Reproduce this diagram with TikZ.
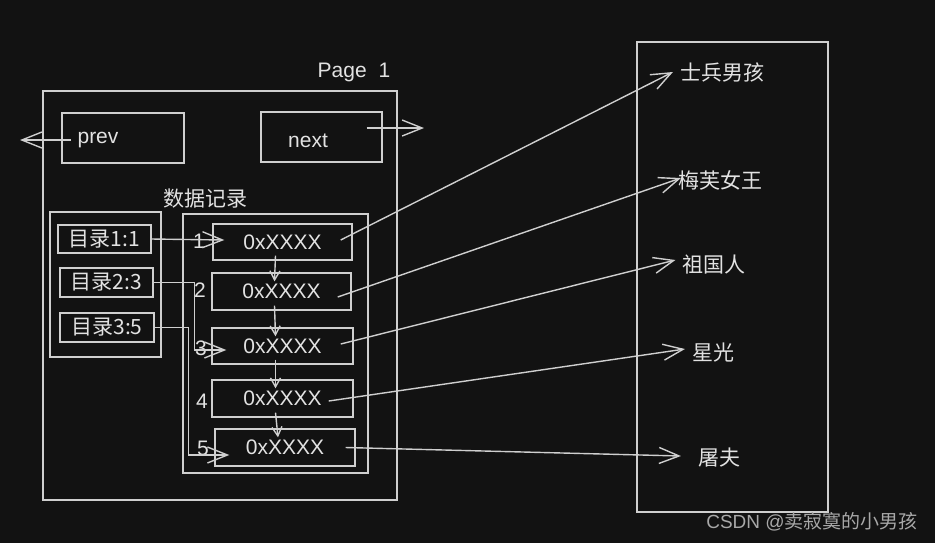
\documentclass[tikz,border=0pt]{standalone}
\usepackage{fontspec}
\setmainfont{Liberation Sans}
\newfontfamily\cjk{Noto Sans CJK SC}
\usetikzlibrary{arrows.meta,calc,positioning}
\definecolor{bgc}{HTML}{121212}
\definecolor{ink}{HTML}{CFCFCF}
\definecolor{txt}{HTML}{E2E2E2}
\definecolor{wmark}{HTML}{A8A8A8}

\begin{document}
\begin{tikzpicture}[x=0.5pt,y=-0.5pt,>={Straight Barb[length=10pt,width=8pt]},
  every node/.style={text=txt,font=\fontsize{10.5}{12.6}\selectfont},
  box/.style={draw=ink,line width=0.7pt,inner sep=0pt},
  link/.style={draw=ink,line width=0.7pt,->},
  down/.style={draw=ink,line width=0.7pt,-{Straight Barb[length=4.5pt,width=5pt]}},
  zh/.style={font=\cjk\fontsize{10.5}{12.6}\selectfont}]
\fill[bgc] (0,0) rectangle (935,543);
\useasboundingbox (0,0) rectangle (935,543);

% page with prev / next pointers
\node[box,minimum width=177pt,minimum height=204.5pt] (page) at (220,295.5) {};
\node (pagetitle) at (354,72) {Page\hspace{6pt}1};
\node[box,minimum width=61pt,minimum height=25pt] (prevbox) at (123,138) {};
\node (prevtxt) at (98,140) {prev};
\node[box,minimum width=60.5pt,minimum height=25pt] (nextbox) at (321.5,137) {};
\node (nexttxt) at (308,141) {next};
\coordinate (prevend) at (20,140);
\coordinate (nextend) at (424,128);
\draw[link] (prevtxt.west) -- (prevend);
\draw[link] ($(nextbox.east)+(-16,-9)$) -- (nextend);

% directory
\node[box,minimum width=55.5pt,minimum height=72.5pt] (dir) at (105.5,284.5) {};
\node[box,zh,minimum width=46.5pt,minimum height=14pt] (d1) at (104.5,239) {目录1:1};
\node[box,zh,minimum width=46.5pt,minimum height=14.5pt] (d2) at (106.5,282.5) {目录2:3};
\node[box,zh,minimum width=47pt,minimum height=14.5pt] (d3) at (107,327.5) {目录3:5};

% records
\node[zh] (rectitle) at (205,199) {数据记录};
\node[box,minimum width=92.5pt,minimum height=129.5pt] (recs) at (275.5,343.5) {};
\node[box,minimum width=69.5pt,minimum height=18pt] (r1) at (282.5,242) {0xXXXX};
\node[box,minimum width=69.5pt,minimum height=18.5pt] (r2) at (281.5,291.5) {0xXXXX};
\node[box,minimum width=70.5pt,minimum height=18pt] (r3) at (282.5,346) {0xXXXX};
\node[box,minimum width=70.5pt,minimum height=18.5pt] (r4) at (282.5,398.5) {0xXXXX};
\node[box,minimum width=70pt,minimum height=18.5pt] (r5) at (285,447.5) {0xXXXX};
\node (idx1) at (199,241) {1};
\node (idx2) at (200,290) {2};
\node (idx3) at (201,348) {3};
\node (idx4) at (202,401) {4};
\node (idx5) at (203,448) {5};
\foreach \a/\b in {r1/r2,r2/r3,r3/r4,r4/r5}
  \draw[down] ($(\a.south)+(-7,-5)$) -- ($(\b.north)+(-7,9)$);

% directory slots -> records
\draw[link] (d1.east) -- ($(r1.west)+(12,-2)$);
\draw[link] (d2.east) -- ++(41,0) |- ($(r3.west)+(15,4)$);
\draw[link] (d3.east) -- ++(34,0) |- ($(r5.west)+(15,7.5)$);

% user records
\node[box,minimum width=95.5pt,minimum height=235pt] (users) at (732.5,277) {};
\node[zh] (boy) at (722,72) {士兵男孩};
\node[zh] (queen) at (720,180) {梅芙女王};
\node[zh] (homelander) at (714,265) {祖国人};
\node[zh] (starlight) at (713,353) {星光};
\node[zh] (butcher) at (719,458) {屠夫};
\draw[link] ($(r1.east)+(-12,-2)$) -- (boy.west);
\draw[link] ($(r2.east)+(-14,5.5)$) -- ($(queen.west)+(10,-2)$);
\draw[link] ($(r3.east)+(-13,-2)$) -- ($(homelander.west)+(0,-5)$);
\draw[link] ($(r4.east)+(-25,2.5)$) -- ($(starlight.west)+(0,-4)$);
\draw[link] ($(r5.east)+(-10,0)$) -- ($(butcher.west)+(-10,-2)$);

\node[text=wmark,font=\fontsize{9.5}{11}\selectfont] (mark) at (812,522) {CSDN @{\cjk 卖寂寞的小男孩}};
\end{tikzpicture}
\end{document}
